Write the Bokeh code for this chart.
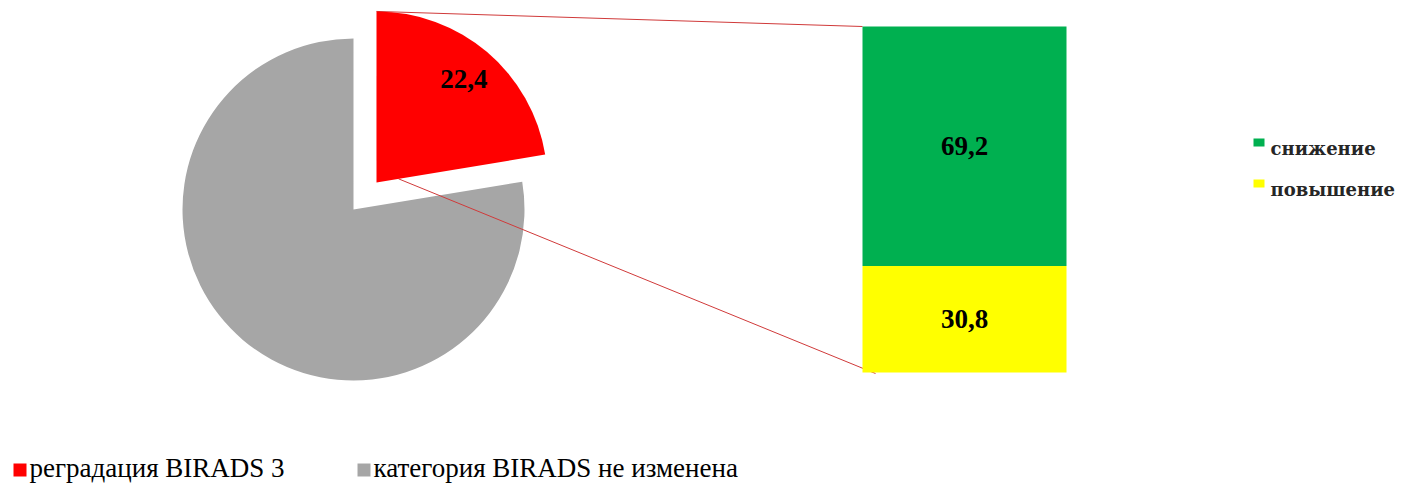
import math
from bokeh.plotting import figure
from bokeh.models import Range1d
from bokeh.core.properties import value
from bokeh.embed import file_html
from bokeh.resources import INLINE

# ---- data ----
pie_labels = ["реградация BIRADS 3", "категория BIRADS не изменена"]
pie_values = [22.4, 77.6]
pie_colors = ["#FF0000", "#A6A6A6"]
pie_text = ["22,4"]

bar_labels = ["снижение", "повышение"]
bar_values = [69.2, 30.8]
bar_colors = ["#00B050", "#FFFF00"]
bar_text = ["69,2", "30,8"]

W, H = 1403, 483
p = figure(width=W, height=H, output_backend="svg", toolbar_location=None,
           x_range=Range1d(0, W), y_range=Range1d(0, H), min_border=0)
p.axis.visible = False
p.grid.visible = False
p.outline_line_color = None
p.background_fill_color = "white"

serif = value("Liberation Serif")

# ---- pie ----
cx, cy, R = 353, 274, 171
total = sum(pie_values)
red_sweep = 2 * math.pi * pie_values[0] / total
red_start = math.pi / 2 - red_sweep
red_end = math.pi / 2
mid = (red_start + red_end) / 2
explode = 35.5
rcx = cx + explode * math.cos(mid)
rcy = cy + explode * math.sin(mid)

p.wedge(x=cx, y=cy, radius=R, start_angle=red_end, end_angle=red_start + 2 * math.pi,
        fill_color=pie_colors[1], line_color=None)

# series lines to bar
bar_left, bar_right = 862, 1066
bar_bottom, bar_h = 111, 346
line_col = "#D03A3A"
p.line([rcx, bar_left], [rcy + R, bar_bottom + bar_h], line_color=line_col, line_width=1)
t = 22 / math.cos(red_start)
lx = rcx + t * math.cos(red_start)
ly = rcy + t * math.sin(red_start)
p.line([lx, bar_left + 13], [ly, bar_bottom - 1], line_color=line_col, line_width=1)

p.wedge(x=rcx, y=rcy, radius=R, start_angle=red_start, end_angle=red_end,
        fill_color=pie_colors[0], line_color=None)
p.text(x=[rcx + 0.79 * R * math.cos(mid)], y=[rcy + 0.79 * R * math.sin(mid)], text=pie_text,
       text_font=serif, text_font_style="bold", text_font_size="27px",
       text_align="center", text_baseline="middle", text_color="black")

# ---- stacked bar ----
btot = sum(bar_values)
y0 = bar_bottom
yellow_top = y0 + bar_h * bar_values[1] / btot
p.quad(left=bar_left, right=bar_right, bottom=y0, top=yellow_top,
       fill_color=bar_colors[1], line_color=None)
p.quad(left=bar_left, right=bar_right, bottom=yellow_top, top=y0 + bar_h,
       fill_color=bar_colors[0], line_color=None)
bx = (bar_left + bar_right) / 2
p.text(x=[bx, bx], y=[(yellow_top + y0 + bar_h) / 2, (y0 + yellow_top) / 2], text=bar_text,
       text_font=serif, text_font_style="bold", text_font_size="27px",
       text_align="center", text_baseline="middle", text_color="black")

# ---- right legend ----
lg_x = 1253
lg_ys = [341, 300]
for lab, col, yy in zip(bar_labels, bar_colors, lg_ys):
    p.quad(left=lg_x, right=lg_x + 11, bottom=yy - 4, top=yy + 4, fill_color=col, line_color=None)
    p.text(x=[lg_x + 17], y=[yy - 6], text=[lab], text_font=value("DejaVu Serif"),
           text_font_style="bold", text_font_size="18px", text_baseline="middle",
           text_color="#262626")

# ---- bottom legend ----
bl_xs = [13, 357]
for lab, col, xx in zip(pie_labels, pie_colors, bl_xs):
    p.quad(left=xx, right=xx + 13, bottom=7, top=20, fill_color=col, line_color=None)
    p.text(x=[xx + 16], y=[16], text=[lab], text_font=serif,
           text_font_size="27px", text_baseline="middle", text_color="black")

open("out.html", "w").write(file_html(p, INLINE))
